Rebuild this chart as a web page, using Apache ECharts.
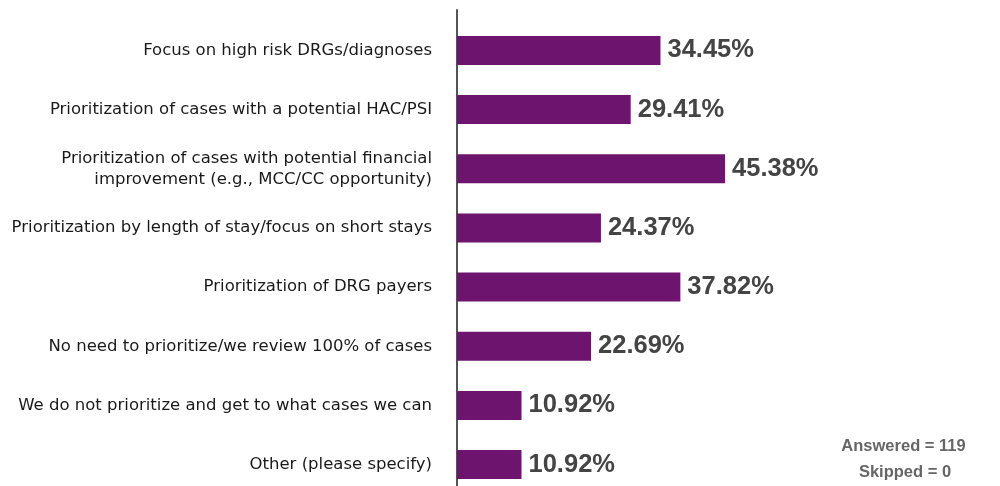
<!DOCTYPE html>
<html>
<head>
<meta charset="utf-8">
<script src="https://cdn.jsdelivr.net/npm/echarts@6/dist/echarts.min.js"></script>
<style>
html,body{margin:0;padding:0;background:#fff;overflow:hidden;}
#chart{width:1000px;height:520px;}
</style>
</head>
<body>
<div id="chart"></div>
<script>
const categories = [
  "Focus on high risk DRGs/diagnoses",
  "Prioritization of cases with a potential HAC/PSI",
  "Prioritization of cases with potential financial\nimprovement (e.g., MCC/CC opportunity)",
  "Prioritization by length of stay/focus on short stays",
  "Prioritization of DRG payers",
  "No need to prioritize/we review 100% of cases",
  "We do not prioritize and get to what cases we can",
  "Other (please specify)"
];
const values = [34.45, 29.41, 45.38, 24.37, 37.82, 22.69, 10.92, 10.92];
const noteLines = ["Answered = 119", "Skipped = 0"];

const chart = echarts.init(document.getElementById('chart'));
chart.setOption({
  animation: false,
  backgroundColor: '#ffffff',
  grid: [
    { left: 457, width: 472.5, top: 20.8, height: 473.4, containLabel: false },
    { left: 457, width: 472.5, top: 10, height: 490, containLabel: false }
  ],
  xAxis: [
    { type: 'value', min: 0, max: 80, show: false, gridIndex: 0 },
    { type: 'value', min: 0, max: 80, show: false, gridIndex: 1 }
  ],
  yAxis: [{
    type: 'category',
    gridIndex: 0,
    inverse: true,
    data: categories,
    axisLine: { show: false },
    axisTick: { show: false },
    axisLabel: {
      margin: 25,
      fontFamily: 'DejaVu Sans, sans-serif',
      fontSize: 16.5,
      color: '#1a1a1a',
      lineHeight: 21,
      align: 'right'
    },
    splitLine: { show: false }
  }, {
    type: 'value',
    gridIndex: 1,
    axisLine: { show: true, lineStyle: { color: '#555555', width: 2 } },
    axisTick: { show: false },
    axisLabel: { show: false },
    splitLine: { show: false }
  }],
  series: [{
    type: 'bar',
    xAxisIndex: 0,
    yAxisIndex: 0,
    data: values,
    barWidth: 29,
    itemStyle: { color: '#6c146e' },
    label: {
      show: true,
      position: 'right',
      distance: 7,
      formatter: p => p.value.toFixed(2) + '%',
      fontFamily: 'Liberation Sans, Arial, sans-serif',
      fontWeight: 'bold',
      fontSize: 25.5,
      color: '#444444'
    }
  }],
  graphic: [
    { type: 'text', x: 903.5, y: 446, style: { text: noteLines[0], font: 'bold 16.5px Liberation Sans, Arial, sans-serif', fill: '#666666', align: 'center', verticalAlign: 'middle' } },
    { type: 'text', x: 905, y: 472, style: { text: noteLines[1], font: 'bold 16.5px Liberation Sans, Arial, sans-serif', fill: '#666666', align: 'center', verticalAlign: 'middle' } }
  ]
});
</script>
</body>
</html>
